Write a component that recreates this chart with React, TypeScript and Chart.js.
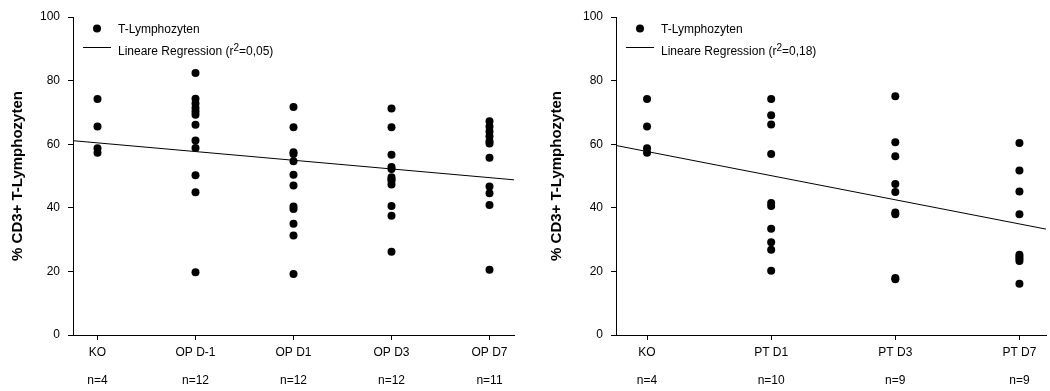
import React, { useEffect, useRef } from 'react';
import { Chart, registerables } from 'chart.js';

Chart.register(...registerables);

const FONT = '"Liberation Sans", Arial, Helvetica, sans-serif';

// ---- shared labels ----
const yTicks = [0, 20, 40, 60, 80, 100];
const yTitle = '% CD3+ T-Lymphozyten';
const pointLabel = 'T-Lymphozyten';
const regLabel = 'Lineare Regression';

// ---- left panel ----
const leftCategories = ['KO', 'OP D-1', 'OP D1', 'OP D3', 'OP D7'];
const leftCounts = ['n=4', 'n=12', 'n=12', 'n=12', 'n=11'];
const leftKO = [74.2, 65.6, 58.7, 57.3];
const leftOPDm1 = [82.4, 74.3, 72.8, 71.4, 70.3, 69.3, 66.1, 61.2, 58.8, 50.2, 44.9, 19.7];
const leftOPD1 = [71.7, 65.3, 57.5, 56.9, 54.6, 50.4, 47.0, 40.4, 39.6, 35.0, 31.3, 19.2];
const leftOPD3 = [71.2, 65.3, 56.7, 52.8, 52.2, 49.6, 49.0, 48.5, 47.3, 40.6, 37.5, 26.2];
const leftOPD7 = [67.2, 65.6, 64.0, 62.5, 60.9, 60.2, 55.7, 46.7, 44.6, 40.9, 20.5];
const leftRegX = [-0.25, 4.25];
const leftRegY = [61.1, 48.8];
const leftR2 = '0,05';

// ---- right panel ----
const rightCategories = ['KO', 'PT D1', 'PT D3', 'PT D7'];
const rightCounts = ['n=4', 'n=10', 'n=9', 'n=9'];
const rightKO = [74.2, 65.6, 58.7, 57.3];
const rightPTD1 = [74.2, 69.1, 66.2, 56.9, 41.5, 40.6, 33.4, 29.2, 26.8, 20.2];
const rightPTD3 = [75.1, 60.6, 56.2, 47.5, 45.0, 38.5, 38.0, 17.9, 17.5];
const rightPTD7 = [60.4, 51.7, 45.1, 38.0, 25.2, 24.6, 24.0, 23.3, 16.1];
const rightRegX = [-0.25, 3.214];
const rightRegY = [59.6, 33.3];
const rightR2 = '0,18';

Chart.defaults.font.family = FONT;
Chart.defaults.color = '#000';

function legendPlugin(r2: string) {
  return {
    id: 'customLegend',
    afterDraw(chart: any) {
      const ctx = chart.ctx as CanvasRenderingContext2D;
      const L = chart.chartArea.left;
      ctx.save();
      ctx.fillStyle = '#000';
      ctx.beginPath();
      ctx.arc(L + 24, 28.5, 4, 0, Math.PI * 2);
      ctx.fill();
      ctx.strokeStyle = '#000';
      ctx.lineWidth = 1;
      ctx.beginPath();
      ctx.moveTo(L + 10, 47.5);
      ctx.lineTo(L + 38, 47.5);
      ctx.stroke();
      ctx.textAlign = 'left';
      ctx.textBaseline = 'alphabetic';
      ctx.font = `12px ${FONT}`;
      ctx.fillText(pointLabel, L + 45, 33);
      const t1 = regLabel + ' (r';
      let x = L + 45;
      ctx.fillText(t1, x, 55);
      x += ctx.measureText(t1).width;
      ctx.font = `10px ${FONT}`;
      ctx.fillText('2', x, 50.5);
      x += ctx.measureText('2').width;
      ctx.font = `12px ${FONT}`;
      ctx.fillText('=' + r2 + ')', x, 55);
      ctx.restore();
    },
  };
}

function makeConfig(p: {
  categories: string[];
  counts: string[];
  groups: number[][];
  regX: number[];
  regY: number[];
  r2: string;
  xMin: number;
  xMax: number;
  yAxisWidth: number;
  padRight: number;
}): any {
  const points = p.groups.flatMap((vals, i) => vals.map((v) => ({ x: i, y: v })));
  const reg = p.regX.map((x, i) => ({ x, y: p.regY[i] }));
  return {
    type: 'scatter',
    data: {
      datasets: [
        {
          label: pointLabel,
          data: points,
          pointRadius: 4,
          pointHoverRadius: 4,
          pointBackgroundColor: '#000',
          pointBorderWidth: 0,
          borderColor: '#000',
          showLine: false,
        },
        {
          label: regLabel,
          data: reg,
          showLine: true,
          borderColor: '#000',
          borderWidth: 1,
          pointRadius: 0,
          fill: false,
        },
      ],
    },
    options: {
      animation: false,
      responsive: false,
      devicePixelRatio: 1,
      layout: { padding: { top: 17, right: p.padRight, bottom: 0, left: 0 } },
      plugins: { legend: { display: false }, tooltip: { enabled: false } },
      scales: {
        x: {
          type: 'linear',
          min: p.xMin,
          max: p.xMax,
          afterBuildTicks: (s: any) => {
            s.ticks = p.categories.map((_, i) => ({ value: i }));
          },
          afterFit: (s: any) => {
            s.height = 56;
          },
          ticks: {
            autoSkip: false,
            maxRotation: 0,
            padding: 5,
            color: '#000',
            font: { size: 12, family: FONT },
            callback: (_v: any, i: number) => [p.categories[i], '', p.counts[i]],
          },
          grid: { display: true, drawOnChartArea: false, drawTicks: true, tickLength: 5, color: '#000' },
          border: { display: true, color: '#000', width: 1 },
        },
        y: {
          type: 'linear',
          min: 0,
          max: 100,
          afterBuildTicks: (s: any) => {
            s.ticks = yTicks.map((v) => ({ value: v }));
          },
          afterFit: (s: any) => {
            s.width = p.yAxisWidth;
          },
          ticks: { padding: 8, color: '#000', font: { size: 12, family: FONT } },
          grid: { display: true, drawOnChartArea: false, drawTicks: true, tickLength: 5, color: '#000' },
          border: { display: true, color: '#000', width: 1 },
          title: {
            display: true,
            text: yTitle,
            color: '#000',
            font: { size: 15, weight: 'bold', family: FONT },
            padding: { top: 9, bottom: 0 },
          },
        },
      },
    },
    plugins: [legendPlugin(p.r2)],
  };
}

export default function App() {
  const leftRef = useRef<HTMLCanvasElement>(null);
  const rightRef = useRef<HTMLCanvasElement>(null);

  useEffect(() => {
    const c1 = new Chart(
      leftRef.current!,
      makeConfig({
        categories: leftCategories,
        counts: leftCounts,
        groups: [leftKO, leftOPDm1, leftOPD1, leftOPD3, leftOPD7],
        regX: leftRegX,
        regY: leftRegY,
        r2: leftR2,
        xMin: -0.25,
        xMax: 4.25,
        yAxisWidth: 73,
        padRight: 16,
      })
    );
    const c2 = new Chart(
      rightRef.current!,
      makeConfig({
        categories: rightCategories,
        counts: rightCounts,
        groups: [rightKO, rightPTD1, rightPTD3, rightPTD7],
        regX: rightRegX,
        regY: rightRegY,
        r2: rightR2,
        xMin: -0.25,
        xMax: 3.214,
        yAxisWidth: 77,
        padRight: 0,
      })
    );
    return () => {
      c1.destroy();
      c2.destroy();
    };
  }, []);

  return (
    <div
      style={{
        position: 'fixed',
        left: 0,
        top: 0,
        width: 1050,
        height: 391,
        background: '#fff',
        overflow: 'hidden',
      }}
    >
      <canvas ref={leftRef} width={530} height={391} style={{ position: 'absolute', left: 0, top: 0 }} />
      <canvas ref={rightRef} width={511} height={391} style={{ position: 'absolute', left: 539, top: 0 }} />
    </div>
  );
}
